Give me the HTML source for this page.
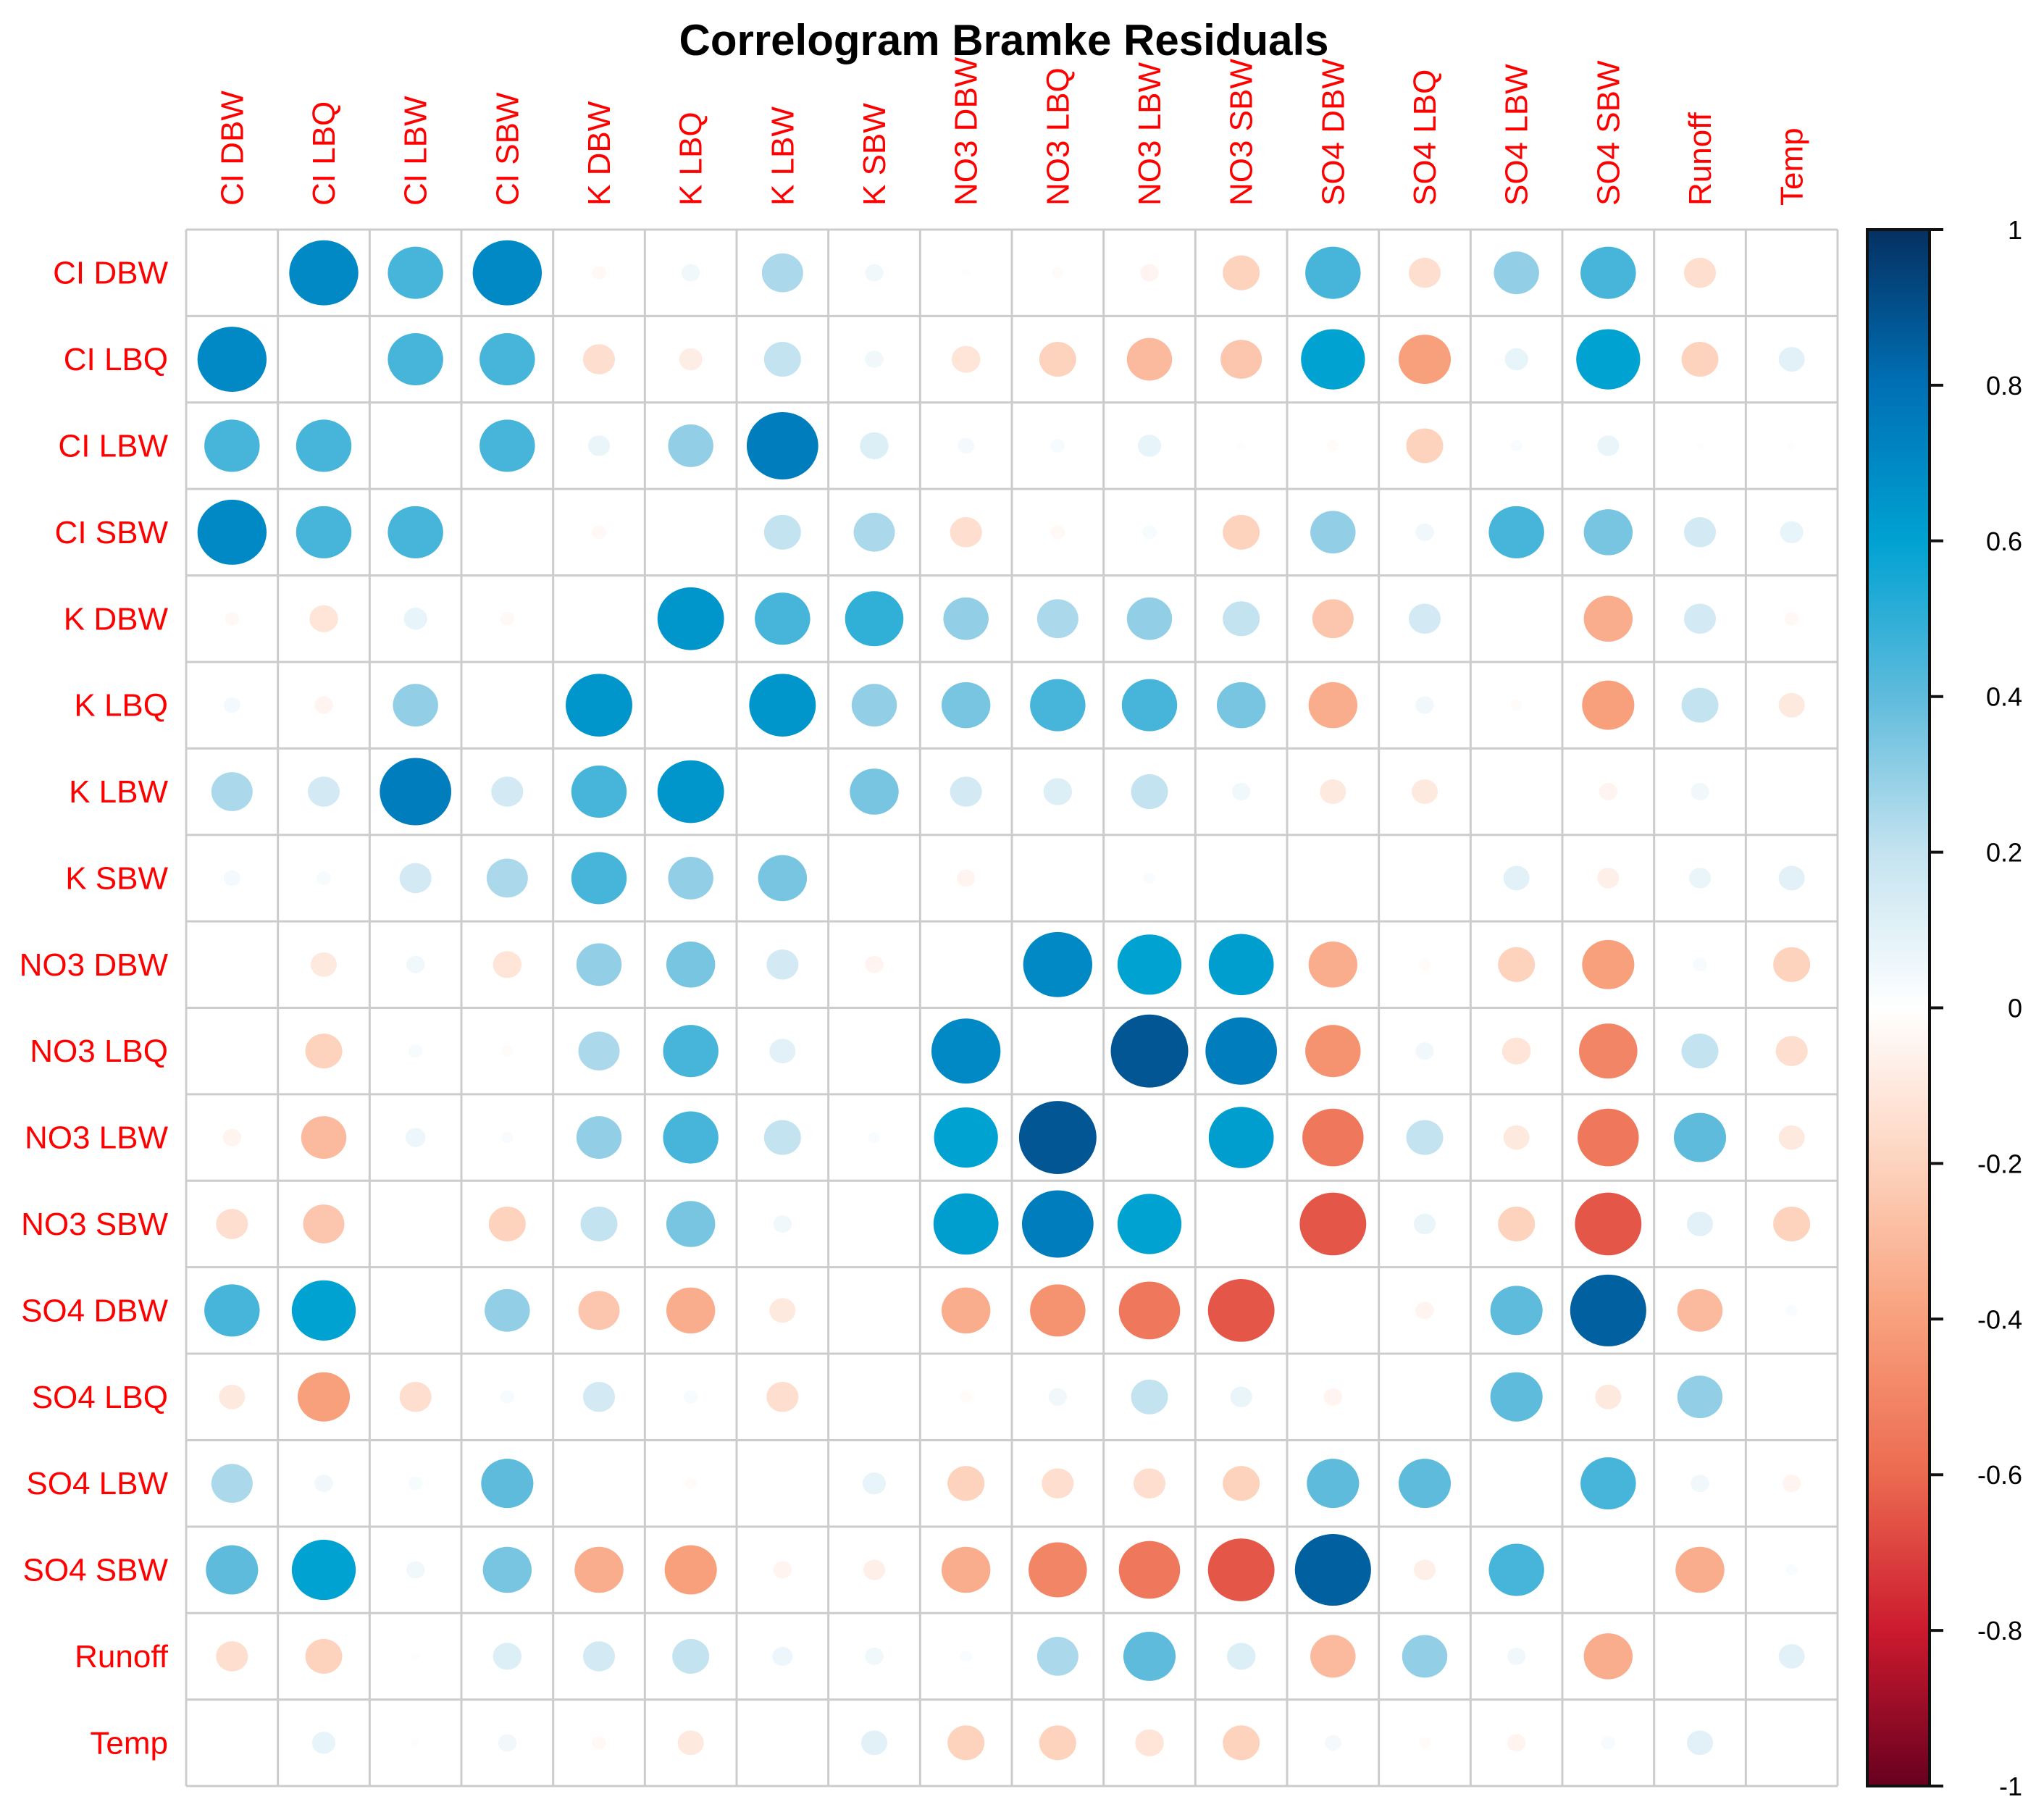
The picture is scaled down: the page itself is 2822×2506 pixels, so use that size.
<!DOCTYPE html>
<html><head><meta charset="utf-8"><style>
html,body{margin:0;padding:0;background:#fff;}
svg{display:block;font-family:"Liberation Sans",Arial,sans-serif;}
</style></head><body>
<svg id="chart" width="2822" height="2506" viewBox="0 0 2822 2506" xmlns="http://www.w3.org/2000/svg">
<rect width="2822" height="2506" fill="#fff"/>
<text x="1386" y="76" text-anchor="middle" font-size="60" font-weight="bold" fill="#000">Correlogram Bramke Residuals</text>
<defs>
<linearGradient id="cbg" x1="0" y1="1" x2="0" y2="0">
<stop offset="0" stop-color="#67001F"/>
<stop offset="0.1" stop-color="#CC1A2E"/>
<stop offset="0.2" stop-color="#EC6A50"/>
<stop offset="0.3" stop-color="#F8A07C"/>
<stop offset="0.4" stop-color="#FDD3BE"/>
<stop offset="0.5" stop-color="#FFFFFF"/>
<stop offset="0.6" stop-color="#C4E3F0"/>
<stop offset="0.7" stop-color="#5FBBDC"/>
<stop offset="0.8" stop-color="#00A2D2"/>
<stop offset="0.9" stop-color="#0070B5"/>
<stop offset="1" stop-color="#053061"/>
</linearGradient>
</defs>
<g id="grid"></g>
<g id="marks"></g>
<g id="labels"></g>
<g id="cbar"></g>
</svg>
<script>
const variables = ["CI DBW","CI LBQ","CI LBW","CI SBW","K DBW","K LBQ","K LBW","K SBW","NO3 DBW","NO3 LBQ","NO3 LBW","NO3 SBW","SO4 DBW","SO4 LBQ","SO4 LBW","SO4 SBW","Runoff","Temp"];
const corrRows = [
[null,.7,.45,.7,-.03,.05,.25,.05,.01,-.02,-.05,-.2,.45,-.15,.3,.45,-.15,0],
[.7,null,.45,.45,-.15,-.08,.2,.05,-.12,-.2,-.3,-.25,.6,-.4,.08,.6,-.2,.1],
[.45,.45,null,.45,.07,.3,.75,.12,.04,.03,.08,-.01,-.02,-.2,.02,.07,.01,.01],
[.7,.45,.45,null,-.03,0,.2,.25,-.15,-.03,.03,-.2,.3,.05,.45,.35,.15,.08],
[-.03,-.12,.08,-.03,null,.65,.45,.5,.3,.25,.3,.2,-.25,.15,0,-.35,.15,-.03],
[.04,-.05,.3,0,.65,null,.65,.3,.35,.45,.45,.35,-.35,.05,-.02,-.4,.2,-.1],
[.25,.15,.75,.15,.45,.65,null,.35,.15,.12,.2,.05,-.1,-.1,0,-.05,.05,0],
[.04,.03,.15,.25,.45,.3,.35,null,-.05,0,.02,0,0,0,.1,-.07,.07,.1],
[0,-.1,.05,-.12,.3,.35,.15,-.05,null,.7,.6,.62,-.35,-.02,-.2,-.4,.03,-.2],
[0,-.2,.03,-.02,.25,.45,.1,0,.7,null,.88,.75,-.45,.05,-.12,-.5,.2,-.15],
[-.05,-.3,.06,.02,.3,.45,.2,.02,.6,.88,null,.62,-.55,.2,-.1,-.55,.4,-.1],
[-.15,-.25,0,-.2,.2,.35,.05,0,.62,.75,.6,null,-.65,.07,-.2,-.65,.1,-.2],
[.45,.6,0,.3,-.25,-.35,-.1,0,-.35,-.45,-.55,-.65,null,-.05,.4,.85,-.3,.02],
[-.1,-.4,-.15,.03,.15,.03,-.15,0,-.02,.05,.2,.07,-.05,null,.4,-.1,.3,0],
[.25,.05,.03,.4,0,-.02,0,.08,-.2,-.15,-.15,-.2,.4,.4,null,.45,.05,-.05],
[.4,.6,.05,.35,-.35,-.4,-.05,-.07,-.35,-.5,-.55,-.65,.85,-.07,.45,null,-.35,.02],
[-.15,-.2,.01,.12,.15,.2,.06,.05,.02,.25,.4,.12,-.3,.3,.05,-.35,null,.1],
[0,.08,.01,.05,-.03,-.1,0,.1,-.2,-.2,-.12,-.2,.04,-.02,-.05,.03,.1,null]
];
const legendTicks = [1,0.8,0.6,0.4,0.2,0,-0.2,-0.4,-0.6,-0.8,-1];
const legendTickLabels = ["1","0.8","0.6","0.4","0.2","0","-0.2","-0.4","-0.6","-0.8","-1"];

const NS="http://www.w3.org/2000/svg";
const L=257,R=2537,T=317,B=2466;
const n=variables.length, cw=(R-L)/n, ch=(B-T)/n;
const xCol=i=>L+cw*(i+0.5), yRow=i=>T+ch*(i+0.5);
const stops=[[-1,[103,0,31]],[-.8,[204,26,46]],[-.6,[236,106,80]],[-.4,[248,160,124]],[-.2,[253,211,190]],[0,[255,255,255]],[.2,[196,227,240]],[.4,[95,187,220]],[.6,[0,162,210]],[.8,[0,112,181]],[1,[5,48,97]]];
function color(v){for(let k=0;k<stops.length-1;k++){const a=stops[k],b=stops[k+1];if(v<=b[0]){const t=(v-a[0])/(b[0]-a[0]);const c=a[1].map((x,j)=>Math.round(x+(b[1][j]-x)*t));return `rgb(${c})`;}}return 'rgb(5,48,97)';}
function mk(tag,attrs,parent){const e=document.createElementNS(NS,tag);for(const k in attrs)e.setAttribute(k,attrs[k]);parent.appendChild(e);return e;}
const grid=document.getElementById('grid'),marks=document.getElementById('marks'),labels=document.getElementById('labels'),cbar=document.getElementById('cbar');
for(let i=0;i<=n;i++){
 const v=mk('line',{x1:L+cw*i,x2:L+cw*i,y1:T,y2:B,stroke:'#cccccc','stroke-width':3},grid);
 
 
 const h=mk('line',{x1:L,x2:R,y1:T+ch*i,y2:T+ch*i,stroke:'#cccccc','stroke-width':3},grid);
 
 
}
corrRows.forEach((row,r)=>{row.forEach((v,c)=>{
 if(v===null)return;
 const s=Math.sqrt(Math.abs(v));
 const e=mk('ellipse',{cx:xCol(c),cy:yRow(r),rx:cw*0.45*s,ry:ch*0.45*s,fill:color(v)},marks);
 
 
});});
variables.forEach((name,i)=>{
 const t=mk('text',{x:232,y:yRow(i)+15,'text-anchor':'end','font-size':44,fill:'#ff0000'},labels);
 t.textContent=name;
 
 
 const cx=xCol(i)+15;
 const u=mk('text',{x:cx,y:284,'font-size':44,fill:'#ff0000',transform:`rotate(-90 ${cx} 284)`},labels);
 u.textContent=name;
 
 
});
const cbL=2578,cbR=2664;
const yLeg=v=>T+(1-v)/2*(B-T);
const bar=mk('rect',{x:cbL,y:T,width:cbR-cbL,height:B-T,fill:'url(#cbg)',stroke:'#111','stroke-width':4},cbar);


legendTicks.forEach((v,i)=>{
 const tk=mk('line',{x1:cbR,x2:2683,y1:yLeg(v),y2:yLeg(v),stroke:'#111','stroke-width':4},cbar);
 
 
 const lb=mk('text',{x:2792,y:yLeg(v)+13,'text-anchor':'end','font-size':36,fill:'#000'},cbar);
 lb.textContent=legendTickLabels[i];
 
 
});
</script>
</body></html>
